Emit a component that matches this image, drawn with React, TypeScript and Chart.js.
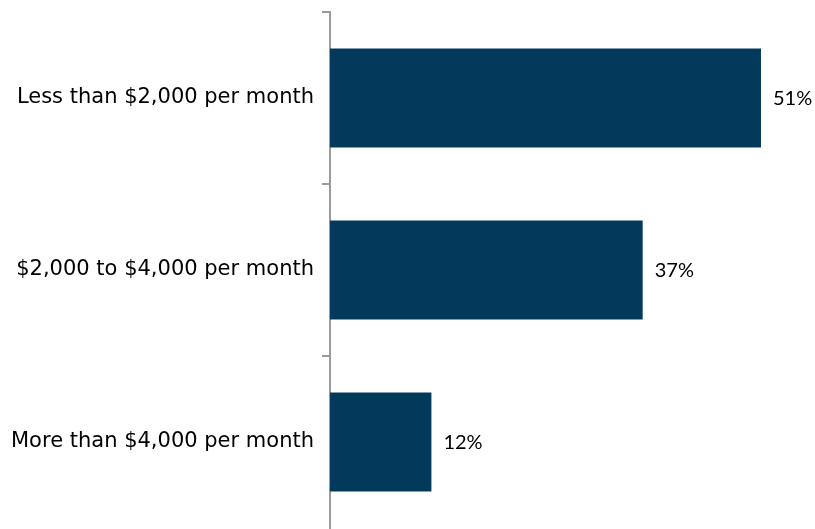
import React, { useEffect, useRef } from "react";
import { Chart, registerables } from "chart.js";

Chart.register(...registerables);

const categories = [
  "Less than $2,000 per month",
  "$2,000 to $4,000 per month",
  "More than $4,000 per month",
];
const values = [51, 37, 12];
const valueLabels = ["51%", "37%", "12%"];

const valueLabelPlugin = {
  id: "valueLabels",
  afterDatasetsDraw(chart: any) {
    const ctx = chart.ctx;
    const meta = chart.getDatasetMeta(0);
    ctx.save();
    ctx.font = "20px Lato, 'Open Sans', sans-serif";
    ctx.fillStyle = "#000000";
    ctx.textAlign = "left";
    ctx.textBaseline = "middle";
    meta.data.forEach((bar: any, i: number) => {
      ctx.fillText(valueLabels[i], bar.x + 12, bar.y + 1);
    });
    ctx.restore();
  },
};

export default function App() {
  const ref = useRef<HTMLCanvasElement | null>(null);
  useEffect(() => {
    if (!ref.current) return;
    const chart = new Chart(ref.current, {
      type: "bar",
      data: {
        labels: categories,
        datasets: [
          {
            data: values,
            backgroundColor: "#033a5c",
            borderWidth: 0,
            categoryPercentage: 1,
            barPercentage: 0.575,
          },
        ],
      },
      options: {
        indexAxis: "y",
        animation: false,
        responsive: false,
        maintainAspectRatio: false,
        layout: { padding: { top: 12, bottom: 1, left: 0, right: 5 } },
        plugins: {
          legend: { display: false },
          tooltip: { enabled: false },
        },
        scales: {
          x: {
            display: false,
            min: 0,
            max: 56.8,
          },
          y: {
            afterFit: (s: any) => {
              s.width = 330;
              s.paddingTop = 0;
              s.paddingBottom = 0;
            },
            border: { display: true, color: "#9a9a9a", width: 2 },
            grid: {
              display: true,
              drawOnChartArea: false,
              drawTicks: true,
              tickLength: 8,
              color: (c: any) => (c.type === "tick" ? "#9a9a9a" : "rgba(0,0,0,0)"),
              lineWidth: 2,
              offset: true,
            },
            ticks: {
              color: "#000000",
              padding: 8,
              font: { family: "'DejaVu Sans', Arial, sans-serif", size: 21 },
            },
          },
        },
      },
      plugins: [valueLabelPlugin],
    });
    return () => chart.destroy();
  }, []);
  return (
    <div style={{ position: "fixed", left: 0, top: 0, width: 815, height: 529, background: "#fff" }}>
      <canvas ref={ref} width={815} height={529} style={{ display: "block" }} />
    </div>
  );
}
